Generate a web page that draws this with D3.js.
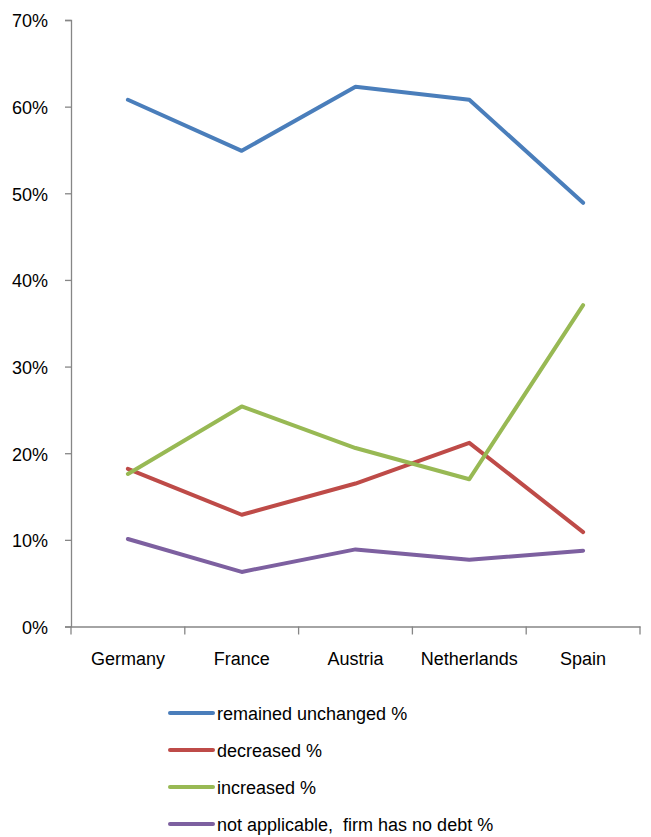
<!DOCTYPE html>
<html>
<head>
<meta charset="utf-8">
<script src="https://cdn.jsdelivr.net/npm/d3@7"></script>
<style>
  html, body { margin: 0; padding: 0; background: #fff; }
  svg text { font-family: "Liberation Sans", Arial, sans-serif; fill: #000; }
</style>
</head>
<body>
<svg id="chart" width="651" height="837"></svg>
<script>
// Countries along the x axis
const countries = ["Germany", "France", "Austria", "Netherlands", "Spain"];

// Share of firms (%) per answer, one array per series
const remainedUnchanged = [60.8, 54.9, 62.3, 60.8, 48.9];
const decreased        = [18.2, 12.9, 16.5, 21.2, 10.9];
const increased        = [17.6, 25.4, 20.6, 17.0, 37.1];
const notApplicable    = [10.1, 6.3, 8.9, 7.7, 8.75];

const seriesNames  = ["remained unchanged %", "decreased %", "increased %", "not applicable,  firm has no debt %"];
const seriesColors = ["#4A7EBB", "#BE4B48", "#98B954", "#7D60A0"];
const yTicks = [0, 10, 20, 30, 40, 50, 60, 70];

const series = [remainedUnchanged, decreased, increased, notApplicable].map((vals, i) => ({
  name: seriesNames[i],
  color: seriesColors[i],
  values: vals
}));

const svg = d3.select("#chart");
const plot = { left: 71, right: 640, top: 20, bottom: 626.5 };

const x = d3.scaleBand().domain(countries).range([plot.left, plot.right]);
const y = d3.scaleLinear().domain([0, 70]).range([plot.bottom, plot.top]);

const axisColor = "#868686";

// Y axis
const yAxis = svg.append("g")
  .attr("transform", `translate(${plot.left},0)`)
  .call(d3.axisLeft(y).tickValues(yTicks).tickFormat(d => d + "%").tickSize(6).tickPadding(17));
yAxis.select(".domain").attr("stroke", axisColor).attr("stroke-width", 1.3);
yAxis.selectAll(".tick line").attr("stroke", axisColor).attr("stroke-width", 1.3);
yAxis.selectAll(".tick text")
  .attr("font-size", 18).attr("font-family", "Liberation Sans, Arial, sans-serif")
  .attr("fill", "#000").attr("dy", "0.38em");

// X axis with ticks at band boundaries
const xAxis = svg.append("g")
  .attr("transform", `translate(0,${plot.bottom})`)
  .call(d3.axisBottom(x).tickSize(0).tickPadding(26));
xAxis.select(".domain").attr("stroke", axisColor).attr("stroke-width", 1.3);
xAxis.selectAll(".tick text")
  .attr("font-size", 18).attr("font-family", "Liberation Sans, Arial, sans-serif")
  .attr("fill", "#000");
const bounds = countries.map(c => x(c)).concat([x(countries[countries.length - 1]) + x.bandwidth()]);
xAxis.selectAll("line.bound").data(bounds).enter().append("line")
  .attr("class", "bound")
  .attr("x1", d => d).attr("x2", d => d)
  .attr("y1", 0).attr("y2", 8)
  .attr("stroke", axisColor).attr("stroke-width", 1.3);

// Series lines
const line = d3.line()
  .x((d, i) => x(countries[i]) + x.bandwidth() / 2)
  .y(d => y(d));

svg.append("g").selectAll("path").data(series).enter().append("path")
  .attr("d", d => line(d.values))
  .attr("fill", "none")
  .attr("stroke", d => d.color)
  .attr("stroke-width", 4)
  .attr("stroke-linecap", "round")
  .attr("stroke-linejoin", "round");

// Legend
const legend = svg.append("g").attr("transform", "translate(170,713)");
const item = legend.selectAll("g").data(series).enter().append("g")
  .attr("transform", (d, i) => `translate(0,${i * 37})`);
item.append("line")
  .attr("x1", 0).attr("x2", 43).attr("y1", 0).attr("y2", 0)
  .attr("stroke", d => d.color).attr("stroke-width", 4).attr("stroke-linecap", "round");
item.append("text")
  .attr("x", 47).attr("y", 7)
  .attr("font-size", 18)
  .style("white-space", "pre")
  .text(d => d.name);
</script>
</body>
</html>
